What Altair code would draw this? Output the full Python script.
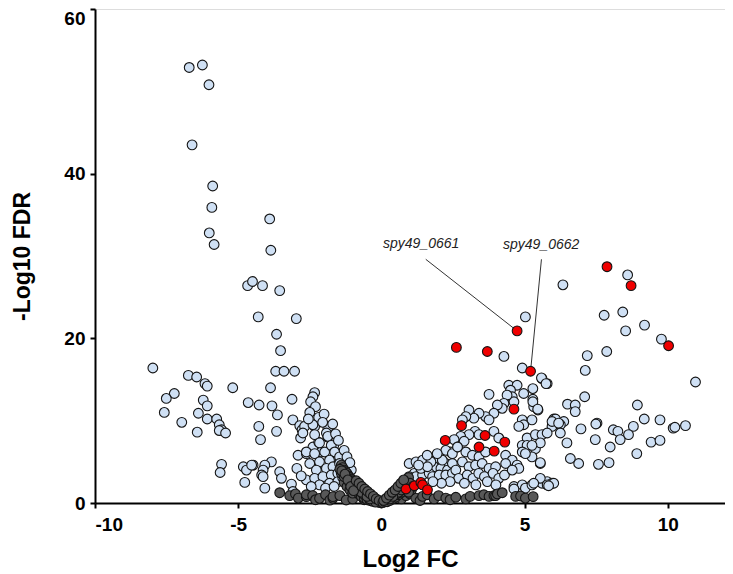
import altair as alt
import pandas as pd

# ---------------- data (log2 FC, -log10 FDR) ----------------
blue_left_pts = [
    (-6.71, 52.9), (-6.25, 53.2), (-6.02, 50.8), (-6.61, 43.5), (-5.89, 38.5), (-5.92, 35.9),
    (-6.01, 32.8), (-5.84, 31.4), (-4.67, 26.4), (-4.50, 26.9), (-4.15, 26.4), (-3.55, 25.8),
    (-3.90, 34.5), (-3.86, 30.7),
    (-4.30, 22.6), (-2.97, 22.4), (-3.66, 20.5), (-3.52, 18.5), (-3.69, 16.0), (-3.40, 16.0),
    (-3.03, 16.0), (-3.87, 14.0), (-3.12, 12.6), (-2.33, 13.4), (-2.39, 12.9), (-2.47, 12.3),
    (-2.30, 11.7), (-4.65, 12.2), (-4.27, 11.9), (-3.82, 11.8), (-3.63, 10.7), (-2.19, 10.4),
    (-3.09, 10.1), (-2.85, 9.4), (-2.77, 8.9), (-2.82, 7.9), (-4.28, 9.3), (-3.66, 8.7),
    (-4.22, 7.7), (-2.33, 9.3), (-1.87, 9.1), (-1.92, 8.5), (-1.87, 8.0), (-1.66, 7.0),
    (-2.39, 6.8), (-2.19, 7.4), (-2.10, 6.2), (-2.91, 5.8), (-2.62, 6.0), (-1.58, 5.6),
    (-1.40, 5.2), (-1.46, 4.8), (-3.84, 5.0), (-4.07, 4.6), (-4.13, 4.0), (-4.18, 3.4),
    (-4.82, 4.4), (-4.71, 4.0), (-4.48, 4.6), (-3.55, 3.8), (-3.49, 3.0), (-4.13, 3.2),
    (-4.77, 2.5), (-4.07, 1.8), (-3.14, 2.3), (-3.09, 1.4),
    (-7.98, 16.4), (-6.74, 15.5), (-6.45, 15.3), (-6.16, 14.5), (-6.08, 14.2), (-5.19, 14.0),
    (-7.23, 13.3), (-7.51, 12.7), (-6.22, 12.5), (-6.08, 11.8), (-7.58, 11.0), (-6.39, 10.9),
    (-6.08, 10.2), (-5.75, 10.2), (-6.97, 9.8), (-5.66, 9.5), (-5.58, 8.9), (-5.66, 8.8),
    (-5.44, 8.5), (-6.43, 8.6), (-5.58, 4.7), (-5.63, 3.7), (-4.53, 4.6),
    (-2.68, 9.3), (-2.39, 9.5), (-2.74, 8.5), (-2.33, 8.3), (-1.87, 8.1), (-2.16, 7.3),
    (-2.62, 6.2), (-2.33, 6.0), (-1.98, 6.2), (-1.75, 7.0), (-1.63, 6.2), (-1.46, 5.6),
    (-1.81, 5.2), (-2.16, 5.0), (-2.50, 4.8), (-2.27, 4.0), (-1.92, 4.2), (-1.69, 4.4),
    (-1.46, 4.8), (-1.23, 4.2), (-1.05, 4.0), (-2.62, 2.8), (-2.33, 3.0), (-2.04, 3.2),
    (-1.75, 3.4), (-1.52, 3.6), (-2.16, 2.2), (-1.81, 2.4), (-1.52, 2.6),
    (-2.50, 11.0), (-2.00, 10.8), (-1.60, 8.4), (-1.50, 7.6), (-1.30, 6.4), (-1.20, 5.6),
    (-1.10, 4.9), (-2.05, 9.8), (-2.55, 10.2), (-1.70, 9.6), (-2.95, 4.2), (-2.80, 3.3),
    (-2.45, 2.0), (-1.95, 1.8), (-1.65, 2.0), (-1.35, 3.1),
]

blue_right_pts = [
    (5.03, 22.6), (4.28, 17.8), (4.92, 16.4), (5.61, 15.1), (5.79, 14.5), (4.45, 14.3),
    (4.74, 14.3), (4.51, 13.7), (5.29, 13.9), (3.76, 13.2), (4.57, 12.9), (4.63, 12.3),
    (4.39, 13.1), (5.29, 12.6), (5.32, 11.7), (4.28, 12.1), (4.22, 11.5), (4.05, 11.9),
    (5.47, 11.3), (3.93, 10.9), (3.64, 10.5), (3.41, 10.9), (3.23, 10.3), (3.76, 10.1),
    (3.06, 11.3), (2.95, 10.5), (2.83, 10.1), (4.92, 10.1), (5.26, 10.1), (4.97, 9.5),
    (4.80, 9.3), (6.02, 10.2), (6.08, 9.7), (5.96, 9.3), (3.27, 8.7), (3.41, 8.3),
    (3.06, 8.3), (2.77, 8.1), (3.93, 8.7), (4.10, 7.9), (5.09, 7.9), (5.38, 8.3),
    (5.61, 8.3), (5.79, 8.5), (2.54, 7.7), (2.89, 7.5), (2.66, 6.8), (2.42, 6.2),
    (2.95, 6.2), (3.18, 5.8), (3.41, 5.6), (3.64, 6.2), (4.34, 5.8), (4.57, 5.2),
    (4.74, 4.6), (4.34, 4.8), (4.92, 7.0), (5.09, 7.0), (4.92, 6.2), (5.38, 6.6),
    (5.26, 5.6), (5.55, 4.8), (1.90, 5.2), (2.14, 5.0), (2.25, 4.8), (1.84, 4.4),
    (2.08, 4.2), (2.31, 4.0), (2.54, 3.8), (2.83, 5.0), (3.06, 4.4), (3.29, 4.6),
    (3.52, 4.8), (3.76, 4.2), (3.99, 4.4), (1.55, 4.4), (1.32, 4.0), (1.15, 3.6),
    (0.97, 3.2), (1.21, 3.2), (1.44, 3.4), (1.67, 3.6),
    (4.63, 2.0), (4.92, 2.2), (5.03, 1.8), (5.26, 2.2), (5.61, 2.4), (5.79, 2.6), (5.96, 2.4),
    (0.97, 4.8), (1.21, 5.0), (1.44, 5.2), (1.73, 5.0), (2.13, 5.2), (1.38, 4.2),
    (1.61, 4.4), (2.48, 4.8), (1.79, 3.2), (2.02, 3.4), (2.25, 3.4), (2.48, 3.6),
    (2.60, 4.0), (2.25, 6.4), (2.48, 6.0), (2.66, 6.8),
    (2.70, 3.0), (3.00, 3.4), (3.20, 3.0), (3.40, 3.6), (3.60, 3.2), (3.90, 3.6),
    (4.10, 3.0), (4.30, 3.4), (2.90, 2.4), (3.30, 2.2), (3.70, 2.6), (4.00, 2.2),
    (2.40, 2.6), (2.10, 2.4), (1.80, 2.6), (1.60, 5.8), (1.95, 6.0), (1.30, 4.6),
    (8.60, 27.7), (6.34, 26.5), (7.78, 22.8), (8.43, 23.2), (8.53, 20.9), (9.19, 21.6),
    (9.78, 19.9), (7.87, 18.4), (7.19, 17.9), (7.12, 16.1), (10.97, 14.7), (5.59, 15.2),
    (5.75, 14.5), (4.97, 13.3), (7.10, 12.9), (6.50, 12.0), (6.77, 11.9), (6.77, 11.1),
    (8.94, 11.9), (5.29, 12.3), (5.46, 11.4), (9.18, 10.2), (9.73, 10.1), (6.08, 10.2),
    (6.37, 9.9), (6.25, 9.5), (5.96, 9.9), (7.53, 9.7), (8.80, 9.3), (6.97, 9.0),
    (8.10, 8.9), (8.26, 8.7), (8.63, 8.3), (10.19, 9.1), (10.25, 9.2), (10.62, 9.4),
    (7.47, 7.7), (8.34, 7.7), (7.99, 6.8), (9.42, 7.4), (9.73, 7.6), (8.92, 6.0),
    (6.48, 7.3), (6.60, 5.4), (6.89, 4.8), (7.58, 4.7), (7.95, 4.9), (5.55, 4.9),
    (5.55, 3.0), (5.79, 2.2), (6.02, 2.4), (7.49, 9.6), (5.84, 2.1), (5.32, 2.4),
    (4.63, 1.7), (6.19, 9.7), (6.25, 8.5), (5.55, 7.3), (5.26, 7.0), (5.03, 6.0),
    (4.80, 4.2), (4.57, 4.0),
]

grey_pts = [
    # bottom row (not significant by FDR)
    (-3.55, 1.25), (-3.20, 0.90), (-3.00, 1.10), (-2.90, 0.60), (-2.62, 0.77), (-2.62, 1.00),
    (-2.40, 0.90), (-2.30, 0.40), (-2.16, 0.57), (-1.95, 1.00), (-1.80, 0.35), (-1.69, 0.57),
    (-1.69, 0.77), (-1.45, 0.90), (-1.23, 0.36), (-1.00, 0.50), (-0.77, 1.00), (-0.60, 0.40),
    (0.70, 0.50), (0.86, 0.90), (1.00, 1.10), (1.20, 0.60), (1.35, 0.30), (1.44, 0.80),
    (1.60, 1.00), (1.84, 0.50), (2.00, 0.90), (2.25, 0.60), (2.40, 0.40), (2.60, 0.70),
    (2.95, 0.50), (3.10, 0.80), (3.41, 0.90), (3.58, 1.00), (3.76, 0.80), (3.93, 0.90),
    (3.99, 0.90), (4.05, 1.10), (4.22, 1.25), (4.69, 0.80), (4.86, 0.85), (5.03, 0.60),
    (5.30, 0.77),
    # V-shaped core (small fold change)
    (-1.40, 4.6), (-1.35, 4.3), (-1.30, 4.0), (-1.25, 3.8), (-1.20, 3.6), (-1.15, 3.3),
    (-1.10, 3.1), (-1.05, 2.9), (-1.00, 2.7), (-0.95, 2.6), (-0.90, 2.4), (-0.85, 2.3),
    (-0.80, 2.1), (-0.75, 1.9), (-0.70, 1.8), (-0.65, 1.6), (-0.60, 1.5), (-0.55, 1.3),
    (-0.50, 1.2), (-0.45, 1.0), (-0.40, 0.9), (-0.35, 0.75), (-0.30, 0.6), (-0.25, 0.5),
    (-0.20, 0.35), (-0.15, 0.25), (-0.10, 0.15), (-0.05, 0.05),
    (-1.30, 2.5), (-1.20, 2.0), (-1.10, 1.6), (-1.00, 1.2), (-0.90, 1.6), (-0.80, 1.2),
    (-0.70, 0.8), (-0.60, 0.6), (-0.50, 0.4), (-0.40, 0.3), (-0.30, 0.2), (-0.20, 0.1),
    (-1.20, 3.0), (-1.00, 2.2), (-0.80, 1.6), (-0.60, 1.0), (-0.40, 0.5), (-1.40, 3.6),
    (-1.30, 3.2), (-1.10, 2.4), (-0.90, 1.9), (-0.70, 1.3), (-0.50, 0.8),
    (-1.45, 4.1), (-1.38, 3.9), (-1.27, 3.5), (-1.17, 2.8), (-1.07, 2.0), (-0.97, 1.5),
    (-0.88, 2.7), (-0.78, 2.4), (-0.68, 2.0), (-0.58, 1.7), (-0.48, 1.4), (-0.38, 1.1),
    (-0.28, 0.8), (-0.18, 0.5), (-0.08, 0.3),
    (0.05, 0.05), (0.10, 0.2), (0.15, 0.3), (0.20, 0.45), (0.25, 0.6), (0.30, 0.75),
    (0.35, 0.9), (0.40, 1.05), (0.45, 1.2), (0.50, 1.4), (0.55, 1.55), (0.60, 1.75),
    (0.65, 1.9), (0.70, 2.1), (0.75, 2.3), (0.80, 2.5), (0.85, 2.7), (0.90, 2.9),
    (0.95, 3.1), (0.20, 0.15), (0.30, 0.3), (0.40, 0.5), (0.50, 0.7), (0.60, 1.0),
    (0.70, 1.3), (0.80, 1.6), (0.90, 1.9), (0.50, 1.0), (0.60, 1.3), (0.70, 1.6),
    (0.80, 2.0), (0.90, 2.3), (1.00, 2.4), (0.30, 0.5), (0.40, 0.8), (1.05, 1.6),
    (1.10, 2.0), (0.95, 1.3), (0.08, 0.3), (0.18, 0.6), (0.28, 0.95), (0.38, 1.3),
    (0.48, 1.6), (0.58, 2.0), (0.68, 2.4), (0.78, 2.8),
]

red_pts = [
    (4.74, 20.9), (2.62, 18.9), (3.70, 18.4), (5.21, 16.0), (4.63, 11.4), (2.80, 9.4),
    (2.23, 7.6), (3.62, 8.2), (3.41, 6.8), (4.31, 7.4), (3.94, 6.3), (0.86, 1.7),
    (1.15, 2.1), (1.38, 2.5), (1.44, 2.2), (1.61, 1.6), (7.88, 28.7), (8.72, 26.4),
    (10.03, 19.1),
]

label_text = ["spy49_0661", "spy49_0662"]
label_x = [1.39, 5.58]
label_y = [31.5, 31.3]
leader_x = [1.55, 5.59]
leader_y = [29.6, 29.6]
target_x = [4.74, 5.21]
target_y = [20.9, 16.0]

x_ticks = [-10, -5, 0, 5, 10]
y_ticks = [0, 20, 40, 60]

# ---------------- build table ----------------
rows = []
for grp, pts in [("blue", blue_left_pts + blue_right_pts), ("grey", grey_pts), ("red", red_pts)]:
    for x, y in pts:
        rows.append({"fc": x, "fdr": y, "grp": grp})
df = pd.DataFrame(rows)
ann = pd.DataFrame({"text": label_text, "lx": label_x, "ly": label_y,
                    "x1": leader_x, "y1": leader_y, "x2": target_x, "y2": target_y})

FONT = "Liberation Sans"

xs = alt.Scale(domain=[-10, 12], nice=False, zero=False)
ys = alt.Scale(domain=[0, 60], nice=False)

x_axis = alt.Axis(values=x_ticks, title="Log2 FC", grid=False, domainColor="black", domainWidth=2,
                  tickColor="black", tickWidth=2, tickSize=5, labelFont=FONT, labelFontSize=19,
                  labelFontWeight="bold", labelColor="black", labelPadding=7, titleFont=FONT,
                  labelExpr="toString(datum.value)",
                  titleFontSize=24, titleFontWeight="bold", titleColor="black",
                  titleY=63, titleBaseline="alphabetic")
y_axis = alt.Axis(values=y_ticks, title="-Log10 FDR", grid=False, domainColor="black", domainWidth=2,
                  tickColor="black", tickWidth=2, tickSize=5, labelFont=FONT, labelFontSize=19,
                  labelFontWeight="bold", labelColor="black", labelPadding=5, titleFont=FONT,
                  labelBaseline={"condition": {"test": "datum.value == 60", "value": "top"},
                                 "value": "middle"},
                  titleFontSize=23, titleFontWeight="bold", titleColor="black",
                  titleX=-66, titleY=247, titleAngle=-90, titleAlign="center",
                  titleBaseline="alphabetic")

def layer_for(grp, fill):
    return alt.Chart(df[df.grp == grp]).mark_circle(
        size=95, fill=fill, stroke="#141414", strokeWidth=1.1, opacity=1
    ).encode(x=alt.X("fc:Q", scale=xs, axis=x_axis), y=alt.Y("fdr:Q", scale=ys, axis=y_axis))

blue = layer_for("blue", "#cfe0f4")
grey = layer_for("grey", "#585858")
red = layer_for("red", "#f00000")

leaders = alt.Chart(ann).mark_rule(color="#333333", strokeWidth=1).encode(
    x=alt.X("x1:Q", scale=xs), y=alt.Y("y1:Q", scale=ys), x2="x2:Q", y2="y2:Q")
labels = alt.Chart(ann).mark_text(font=FONT, fontSize=14, fontStyle="italic", color="#222222",
                                  align="center", baseline="middle").encode(
    x=alt.X("lx:Q", scale=xs), y=alt.Y("ly:Q", scale=ys), text="text:N")

chart = alt.layer(blue, grey, leaders, red, labels).properties(
    width=630, height=494,
    autosize=alt.AutoSizeParams(type="none"),
    padding={"left": 87, "top": 1, "right": 0, "bottom": 70},
).configure_view(stroke=None).configure(background="white")

chart.save("out.html", embed_options={"renderer": "svg", "actions": False})
